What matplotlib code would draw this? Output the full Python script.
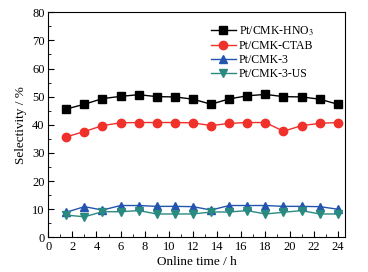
import matplotlib
matplotlib.use('Agg')
from matplotlib import pyplot as plt
from matplotlib.ticker import MultipleLocator

plt.rcParams['font.family'] = ['Liberation Serif', 'DejaVu Serif']
plt.rcParams['mathtext.fontset'] = 'stix'

time_h = [1.5, 3, 4.5, 6, 7.5, 9, 10.5, 12, 13.5, 15, 16.5, 18, 19.5, 21, 22.5, 24]
hno3 = [45.6, 47.3, 49.3, 50.1, 50.7, 50.0, 49.9, 49.1, 47.3, 49.2, 50.3, 50.8, 50.0, 49.9, 49.1, 47.3]
ctab = [35.7, 37.6, 39.7, 40.7, 40.8, 40.8, 40.8, 40.7, 39.7, 40.5, 40.8, 40.8, 37.7, 39.7, 40.5, 40.8]
cmk3 = [8.9, 10.9, 9.7, 11.3, 11.3, 11.0, 11.0, 10.9, 9.7, 11.3, 11.3, 11.3, 11.0, 11.0, 10.9, 10.0]
cmk3_us = [7.9, 7.3, 9.1, 9.1, 9.5, 8.3, 8.3, 8.3, 9.0, 9.0, 9.5, 8.3, 8.9, 9.5, 8.3, 8.3]

labels = ['Pt/CMK-HNO$_3$', 'Pt/CMK-CTAB', 'Pt/CMK-3', 'Pt/CMK-3-US']

fig = plt.figure(figsize=(3.68, 2.72), dpi=100)
ax = fig.add_axes([0.131, 0.1275, 0.8065, 0.8275])

ax.plot(time_h, hno3, '-s', color='black', ms=5.5, lw=1, label=labels[0])
ax.plot(time_h, ctab, '-o', color='#f0302a', ms=6, lw=1, label=labels[1])
ax.plot(time_h, cmk3, '-^', color='#2355b0', ms=6, lw=1, label=labels[2])
ax.plot(time_h, cmk3_us, '-v', color='#2a8a80', ms=6, lw=1, label=labels[3])

ax.set_xlim(0, 24.6)
ax.set_ylim(0, 80)
ax.xaxis.set_major_locator(MultipleLocator(2))
ax.xaxis.set_minor_locator(MultipleLocator(1))
ax.yaxis.set_major_locator(MultipleLocator(10))
ax.yaxis.set_minor_locator(MultipleLocator(5))
ax.tick_params(which='both', direction='in', top=False, right=False, labelsize=9, pad=2.5)
ax.tick_params(which='major', length=4)
ax.tick_params(which='minor', length=2)

ax.set_xlabel('Online time / h', fontsize=9.5, labelpad=2)
ax.set_ylabel('Selectivity / %', fontsize=9.5, labelpad=4)

ax.legend(loc='upper left', bbox_to_anchor=(0.548, 0.945), frameon=False, fontsize=8.5,
          handlelength=2.1, handletextpad=0.25, labelspacing=0.18, borderpad=0,
          borderaxespad=0)

fig.savefig('out.png', dpi=100)
